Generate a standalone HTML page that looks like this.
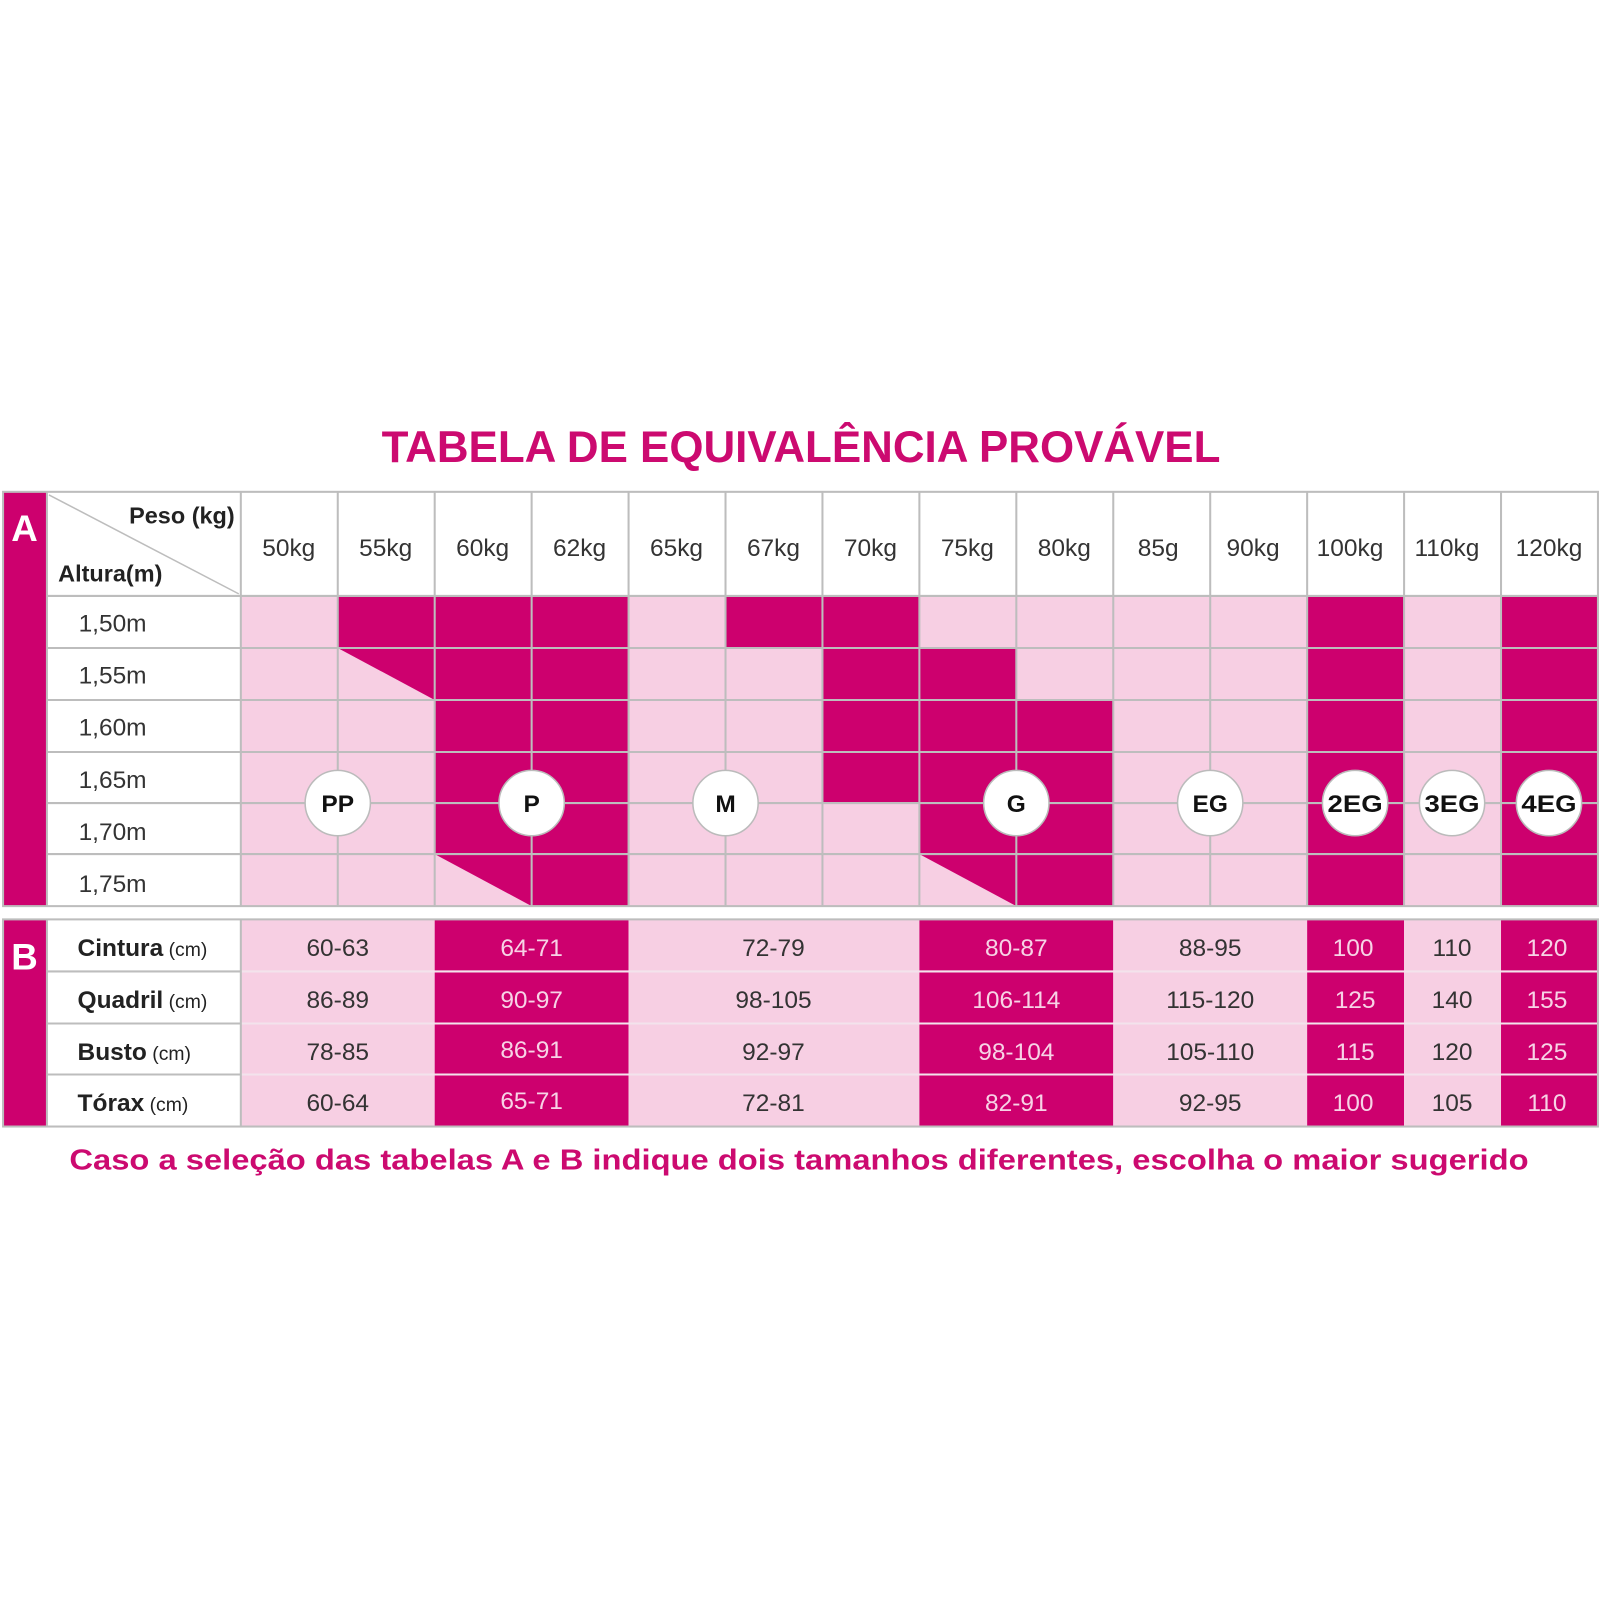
<!DOCTYPE html>
<html><head><meta charset="utf-8"><style>html,body{margin:0;padding:0;background:#fff}svg{display:block}</style></head>
<body>
<svg width="1600" height="1600" viewBox="0 0 1568 1568" xmlns="http://www.w3.org/2000/svg" font-family="Liberation Sans, sans-serif">
<rect width="1568" height="1568" fill="#fff"/>
<text x="785" y="453" text-anchor="middle" font-size="44" font-weight="bold" fill="#cc0a70" textLength="822" lengthAdjust="spacingAndGlyphs">TABELA DE EQUIVALÊNCIA PROVÁVEL</text>

<!-- Table A -->
<rect x="3" y="482" width="43" height="406" fill="#cd006e"/>
<text x="24" y="530" text-anchor="middle" font-size="36" font-weight="bold" fill="#fff">A</text>
<rect x="46" y="482" width="1520" height="406" fill="#fff"/>
<rect x="236" y="584" width="1330" height="304" fill="#f7cfe3"/>
<g fill="#cd006e">
<rect x="331" y="584" width="95" height="51"/>
<polygon points="331,635 426,635 426,686"/>
<rect x="426" y="584" width="95" height="253"/>
<polygon points="426,837 521,837 521,888"/>
<rect x="521" y="584" width="95" height="304"/>
<rect x="711" y="584" width="95" height="51"/>
<rect x="806" y="584" width="95" height="203"/>
<rect x="901" y="635" width="95" height="202"/>
<polygon points="901,837 996,837 996,888"/>
<rect x="996" y="686" width="95" height="202"/>
<rect x="1281" y="584" width="95" height="304"/>
<rect x="1471" y="584" width="95" height="304"/>
</g>
<g stroke="#bdbdbd" stroke-width="2" fill="none">
<rect x="3" y="482" width="1563" height="406"/>
<line x1="46" y1="482" x2="46" y2="888"/>
<line x1="236" y1="482" x2="236" y2="888"/>
<line x1="331" y1="482" x2="331" y2="888"/>
<line x1="426" y1="482" x2="426" y2="888"/>
<line x1="521" y1="482" x2="521" y2="888"/>
<line x1="616" y1="482" x2="616" y2="888"/>
<line x1="711" y1="482" x2="711" y2="888"/>
<line x1="806" y1="482" x2="806" y2="888"/>
<line x1="901" y1="482" x2="901" y2="888"/>
<line x1="996" y1="482" x2="996" y2="888"/>
<line x1="1091" y1="482" x2="1091" y2="888"/>
<line x1="1186" y1="482" x2="1186" y2="888"/>
<line x1="1281" y1="482" x2="1281" y2="888"/>
<line x1="1376" y1="482" x2="1376" y2="888"/>
<line x1="1471" y1="482" x2="1471" y2="888"/>
<line x1="46" y1="584" x2="1566" y2="584"/>
<line x1="46" y1="635" x2="1566" y2="635"/>
<line x1="46" y1="686" x2="1566" y2="686"/>
<line x1="46" y1="737" x2="1566" y2="737"/>
<line x1="46" y1="787" x2="1566" y2="787"/>
<line x1="46" y1="837" x2="1566" y2="837"/>
<line x1="48" y1="485" x2="234" y2="582" stroke-width="1.5"/>
</g>
<text x="230" y="513" text-anchor="end" font-size="23" font-weight="bold" fill="#222">Peso (kg)</text>
<text x="57" y="570" font-size="23" font-weight="bold" fill="#222">Altura(m)</text>
<g font-size="24" fill="#333" text-anchor="middle">
<text x="283" y="545">50kg</text><text x="378" y="545">55kg</text><text x="473" y="545">60kg</text><text x="568" y="545">62kg</text>
<text x="663" y="545">65kg</text><text x="758" y="545">67kg</text><text x="853" y="545">70kg</text><text x="948" y="545">75kg</text>
<text x="1043" y="545">80kg</text><text x="1135" y="545">85g</text><text x="1228" y="545">90kg</text><text x="1323" y="545">100kg</text>
<text x="1418" y="545">110kg</text><text x="1518" y="545">120kg</text>
</g>
<g font-size="24" fill="#333">
<text x="77" y="619">1,50m</text><text x="77" y="670">1,55m</text><text x="77" y="721">1,60m</text>
<text x="77" y="772">1,65m</text><text x="77" y="823">1,70m</text><text x="77" y="874">1,75m</text>
</g>
<g fill="#fff" stroke="#bbb" stroke-width="1.5">
<ellipse cx="331" cy="787" rx="32" ry="32"/><ellipse cx="521" cy="787" rx="32" ry="32"/>
<ellipse cx="711" cy="787" rx="32" ry="32"/><ellipse cx="996" cy="787" rx="32" ry="32"/>
<ellipse cx="1186" cy="787" rx="32" ry="32"/><ellipse cx="1328" cy="787" rx="32" ry="32"/>
<ellipse cx="1423" cy="787" rx="32" ry="32"/><ellipse cx="1518" cy="787" rx="32" ry="32"/>
</g>
<g font-size="24" font-weight="bold" fill="#111" text-anchor="middle">
<text x="331" y="796">PP</text><text x="521" y="796">P</text><text x="711" y="796">M</text><text x="996" y="796">G</text>
<text x="1186" y="796">EG</text><text x="1328" y="796" textLength="54" lengthAdjust="spacingAndGlyphs">2EG</text>
<text x="1423" y="796" textLength="54" lengthAdjust="spacingAndGlyphs">3EG</text><text x="1518" y="796" textLength="54" lengthAdjust="spacingAndGlyphs">4EG</text>
</g>

<!-- Table B -->
<rect x="3" y="901" width="43" height="203" fill="#cd006e"/>
<text x="24" y="950" text-anchor="middle" font-size="36" font-weight="bold" fill="#fff">B</text>
<rect x="46" y="901" width="190" height="203" fill="#fff"/>
<rect x="236" y="901" width="190" height="203" fill="#f7cfe3"/>
<rect x="426" y="901" width="190" height="203" fill="#cd006e"/>
<rect x="616" y="901" width="285" height="203" fill="#f7cfe3"/>
<rect x="901" y="901" width="190" height="203" fill="#cd006e"/>
<rect x="1091" y="901" width="190" height="203" fill="#f7cfe3"/>
<rect x="1281" y="901" width="95" height="203" fill="#cd006e"/>
<rect x="1376" y="901" width="95" height="203" fill="#f7cfe3"/>
<rect x="1471" y="901" width="95" height="203" fill="#cd006e"/>
<g stroke="#f3e3ec" stroke-width="2">
<line x1="236" y1="952" x2="1566" y2="952"/><line x1="236" y1="1003" x2="1566" y2="1003"/><line x1="236" y1="1053" x2="1566" y2="1053"/>
</g>
<g stroke="#bdbdbd" stroke-width="2" fill="none">
<rect x="3" y="901" width="1563" height="203"/>
<line x1="46" y1="901" x2="46" y2="1104"/><line x1="236" y1="901" x2="236" y2="1104"/>
<line x1="46" y1="952" x2="236" y2="952"/><line x1="46" y1="1003" x2="236" y2="1003"/><line x1="46" y1="1053" x2="236" y2="1053"/>
</g>
<g font-size="24" fill="#222">
<text x="76" y="937"><tspan font-weight="bold">Cintura</tspan><tspan font-size="19"> (cm)</tspan></text>
<text x="76" y="988"><tspan font-weight="bold">Quadril</tspan><tspan font-size="19"> (cm)</tspan></text>
<text x="76" y="1039"><tspan font-weight="bold">Busto</tspan><tspan font-size="19"> (cm)</tspan></text>
<text x="76" y="1089"><tspan font-weight="bold">Tórax</tspan><tspan font-size="19"> (cm)</tspan></text>
</g>
<g font-size="24" text-anchor="middle">
<g fill="#333">
<text x="331" y="937">60-63</text><text x="331" y="988">86-89</text><text x="331" y="1039">78-85</text><text x="331" y="1089">60-64</text>
<text x="758" y="937">72-79</text><text x="758" y="988">98-105</text><text x="758" y="1039">92-97</text><text x="758" y="1089">72-81</text>
<text x="1186" y="937">88-95</text><text x="1186" y="988">115-120</text><text x="1186" y="1039">105-110</text><text x="1186" y="1089">92-95</text>
<text x="1423" y="937">110</text><text x="1423" y="988">140</text><text x="1423" y="1039">120</text><text x="1423" y="1089">105</text>
</g>
<g fill="#f7d3e6">
<text x="521" y="937">64-71</text><text x="521" y="988">90-97</text><text x="521" y="1037">86-91</text><text x="521" y="1087">65-71</text>
<text x="996" y="937">80-87</text><text x="996" y="988">106-114</text><text x="996" y="1039">98-104</text><text x="996" y="1089">82-91</text>
<text x="1326" y="937">100</text><text x="1328" y="988">125</text><text x="1328" y="1039">115</text><text x="1326" y="1089">100</text>
<text x="1516" y="937">120</text><text x="1516" y="988">155</text><text x="1516" y="1039">125</text><text x="1516" y="1089">110</text>
</g>
</g>
<text x="68" y="1146" font-size="28" font-weight="bold" fill="#cc0a70" textLength="1430" lengthAdjust="spacingAndGlyphs">Caso a seleção das tabelas A e B indique dois tamanhos diferentes, escolha o maior sugerido</text>
</svg>
</body></html>
